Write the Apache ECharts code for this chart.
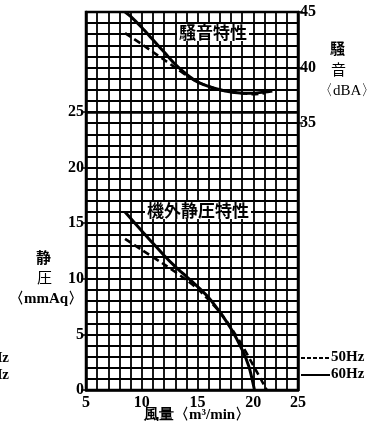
<!DOCTYPE html>
<html style="height: 100%">
<head>
    <meta charset="utf-8">
</head>
<body style="height: 100%; margin: 0; background: #fff">
    <div id="container" style="width: 386px; height: 433px"></div>
    <script src="https://cdn.jsdelivr.net/npm/echarts@6/dist/echarts.min.js"></script>
    <script type="text/javascript">
        // 風量 (m3/min) - 静圧 (mmAq)
        var pressure60X = [8.5, 10, 11, 12, 13, 14, 15, 16, 17, 18, 19, 19.6, 20.1];
        var pressure60Y = [16.0, 14.3, 13.2, 12.1, 11.1, 10.2, 9.3, 8.3, 7.0, 5.5, 3.6, 2.1, 0];
        var pressure50X = [8.5, 10, 12, 14, 15, 16, 17, 18, 19, 20, 21.2];
        var pressure50Y = [13.6, 12.6, 11.3, 9.9, 9.1, 8.1, 7.0, 5.6, 4.0, 2.2, 0];

        // 風量 - 騒音 (dBA)
        var noise60X = [8.5, 9, 10, 11, 12, 13, 14, 15, 16, 17, 18, 19, 20, 21, 21.7];
        var noise60Y = [45, 44.6, 43.6, 42.5, 41.4, 40.3, 39.4, 38.7, 38.3, 38.0, 37.8, 37.7, 37.7, 37.8, 37.9];
        var noise50X = [8.5, 10, 11, 12, 13, 14, 15, 16, 17, 18, 19, 20, 21];
        var noise50Y = [43.1, 42.1, 41.4, 40.7, 40.0, 39.3, 38.7, 38.3, 38.0, 37.8, 37.7, 37.6, 37.7];

        // tick labels
        var xTicks = [5, 10, 15, 20, 24];
        var xTickText = ['5', '10', '15', '20', '25'];
        var pressureTicks = [0, 5, 10, 15, 20, 25];
        var noiseTicks = [35, 40, 45];

        function zip(xs, ys) {
            return xs.map(function (x, i) { return [x, ys[i]]; });
        }

        var numFont = { fontFamily: 'Liberation Serif', fontWeight: 'bold', fontSize: 16, color: '#000' };
        var cjk = 'Noto Sans CJK JP';
        var serif = 'Liberation Serif';

        var myChart = echarts.init(document.getElementById('container'));
        var option = {
            backgroundColor: '#fff',
            animation: false,
            grid: {
                left: 86, top: 12, width: 212, height: 378,
                show: true, borderColor: '#000', borderWidth: 2.5
            },
            xAxis: {
                type: 'value', min: 5, max: 24, interval: 1,
                axisLine: { lineStyle: { color: '#000', width: 2.5 } },
                axisTick: { show: false },
                axisLabel: Object.assign({
                    margin: 5,
                    customValues: xTicks,
                    formatter: function (v) { return xTickText[xTicks.indexOf(v)]; }
                }, numFont),
                splitLine: { lineStyle: { color: '#000', width: 1.8 } }
            },
            yAxis: [{
                type: 'value', min: 0, max: 34, interval: 1,
                axisLine: { show: true, lineStyle: { color: '#000', width: 2.5 } },
                axisTick: { show: true, length: 5, customValues: pressureTicks, lineStyle: { color: '#000', width: 1.5 } },
                axisLabel: Object.assign({ margin: 2, customValues: pressureTicks }, numFont),
                splitLine: { show: false }
            }, {
                type: 'value', min: 11, max: 45, interval: 1, position: 'right',
                axisLine: { show: true, lineStyle: { color: '#000', width: 2.5 } },
                axisTick: { show: true, length: 5, customValues: noiseTicks, lineStyle: { color: '#000', width: 1.5 } },
                axisLabel: Object.assign({ margin: 2, customValues: noiseTicks }, numFont),
                splitLine: { show: false }
            }, {
                // grid rows only
                type: 'value', min: 0, max: 34, interval: 1,
                axisLine: { show: false }, axisTick: { show: false }, axisLabel: { show: false },
                splitLine: { lineStyle: { color: '#000', width: 1.8 } }
            }],
            series: [{
                name: '60Hz', type: 'line', yAxisIndex: 0, smooth: 0.3, symbol: 'none',
                lineStyle: { color: '#000', width: 3 },
                data: zip(pressure60X, pressure60Y),
                markLine: {
                    silent: true, symbol: 'none', label: { show: false },
                    lineStyle: { color: '#000', width: 2.6, type: 'solid' },
                    data: [{ yAxis: 25 }]
                }
            }, {
                name: '50Hz', type: 'line', yAxisIndex: 0, smooth: 0.3, symbol: 'none',
                lineStyle: { color: '#000', width: 2.6, type: [7, 4] },
                data: zip(pressure50X, pressure50Y)
            }, {
                name: '60Hz', type: 'line', yAxisIndex: 1, smooth: 0.3, symbol: 'none',
                lineStyle: { color: '#000', width: 3 },
                data: zip(noise60X, noise60Y)
            }, {
                name: '50Hz', type: 'line', yAxisIndex: 1, smooth: 0.3, symbol: 'none',
                lineStyle: { color: '#000', width: 2.6, type: [7, 4] },
                data: zip(noise50X, noise50Y)
            }],
            graphic: [
                { type: 'text', left: 177, top: 24, z: 10, style: { text: '騒音特性', fontFamily: cjk, fontWeight: 'bold', fontSize: 17, fill: '#000', backgroundColor: '#fff', padding: [0, 2] } },
                { type: 'text', left: 145, top: 202, z: 10, style: { text: '機外静圧特性', fontFamily: cjk, fontWeight: 'bold', fontSize: 17, fill: '#000', backgroundColor: '#fff', padding: [0, 2] } },
                { type: 'text', left: 330, top: 41, style: { text: '騒', fontFamily: cjk, fontWeight: 'bold', fontSize: 15, fill: '#000' } },
                { type: 'text', left: 331, top: 62, style: { text: '音', fontFamily: cjk, fontSize: 15, fill: '#000' } },
                { type: 'text', left: 318, top: 84, style: { text: '〈dBA〉', fontFamily: serif, fontSize: 15, fill: '#000' } },
                { type: 'text', left: 36, top: 250, style: { text: '静', fontFamily: cjk, fontWeight: 'bold', fontSize: 15, fill: '#000' } },
                { type: 'text', left: 37, top: 270, style: { text: '圧', fontFamily: cjk, fontSize: 15, fill: '#000' } },
                { type: 'text', left: 9, top: 292, style: { text: '〈mmAq〉', fontFamily: serif, fontWeight: 'bold', fontSize: 15, fill: '#000' } },
                { type: 'text', left: 144, top: 408, style: { text: '風量〈m³/min〉', fontFamily: serif, fontWeight: 'bold', fontSize: 15, fill: '#000' } },
                // legend, right side
                { type: 'line', shape: { x1: 301, y1: 358, x2: 330, y2: 358 }, style: { stroke: '#000', lineWidth: 2, lineDash: [4, 2] } },
                { type: 'line', shape: { x1: 301, y1: 375, x2: 330, y2: 375 }, style: { stroke: '#000', lineWidth: 2 } },
                { type: 'text', left: 331, top: 350, style: { text: '50Hz', fontFamily: serif, fontWeight: 'bold', fontSize: 15, fill: '#000' } },
                { type: 'text', left: 331, top: 367, style: { text: '60Hz', fontFamily: serif, fontWeight: 'bold', fontSize: 15, fill: '#000' } },
                // legend remnants clipped at the left edge
                { type: 'text', right: 377, top: 351, style: { text: '50Hz', fontFamily: serif, fontWeight: 'bold', fontSize: 15, fill: '#000' } },
                { type: 'text', right: 377, top: 368, style: { text: '60Hz', fontFamily: serif, fontWeight: 'bold', fontSize: 15, fill: '#000' } }
            ]
        };
        myChart.setOption(option);
    </script>
</body>
</html>
